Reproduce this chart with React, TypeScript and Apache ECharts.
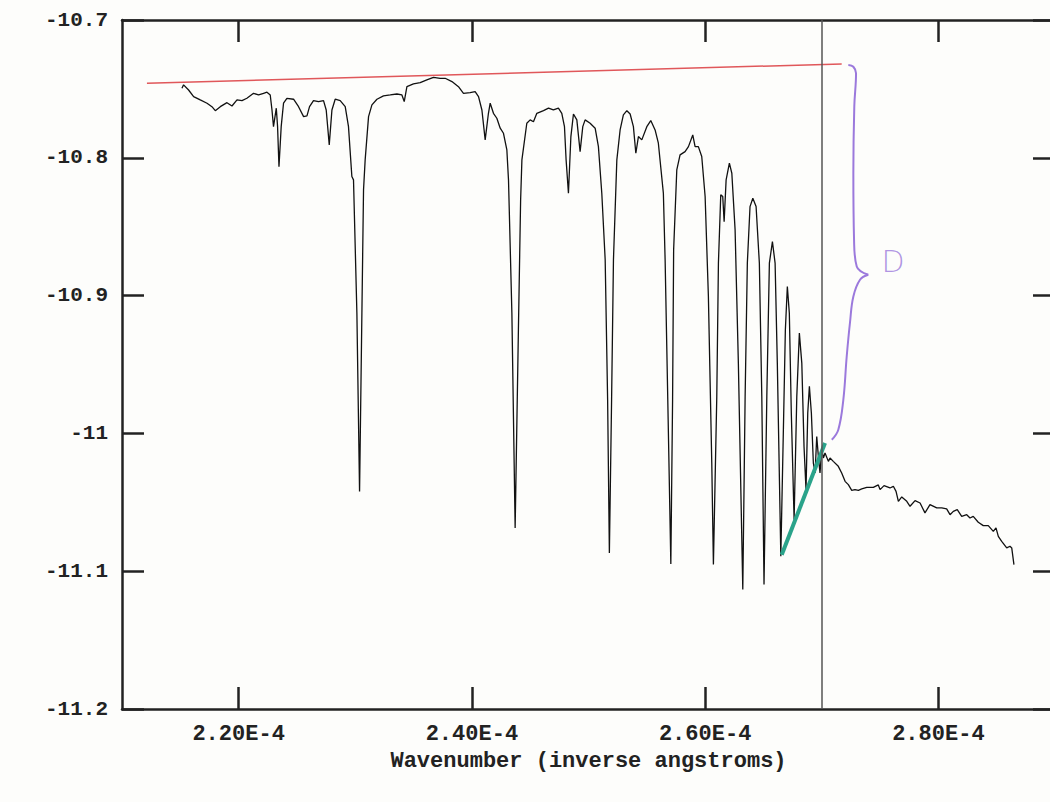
import React, { useEffect, useRef } from "react";
import * as echarts from "echarts";

// Wavenumber in units of 1E-4 inverse angstroms
const wavenumber = [
  2.1514, 2.1528, 2.1571, 2.1614, 2.1671, 2.1729, 2.1771, 2.1800, 2.1843, 2.1900,
  2.1943, 2.1986, 2.2029, 2.2071, 2.2128, 2.2171, 2.2214, 2.2243, 2.2271, 2.2286,
  2.2299, 2.2323, 2.2334, 2.2346, 2.2365, 2.2385, 2.2414, 2.2471, 2.2514, 2.2557,
  2.2586, 2.2608, 2.2642, 2.2685, 2.2728, 2.2751, 2.2777, 2.2800, 2.2828, 2.2871,
  2.2914, 2.2942, 2.2971, 2.2985, 2.3014, 2.3037, 2.3057, 2.3071, 2.3085, 2.3114,
  2.3143, 2.3186, 2.3242, 2.3300, 2.3357, 2.3400, 2.3420, 2.3443, 2.3499, 2.3557,
  2.3614, 2.3671, 2.3728, 2.3771, 2.3829, 2.3885, 2.3928, 2.3985, 2.4028, 2.4057,
  2.4086, 2.4114, 2.4142, 2.4157, 2.4185, 2.4214, 2.4243, 2.4271, 2.4300, 2.4314,
  2.4343, 2.4371, 2.4399, 2.4418, 2.4429, 2.4471, 2.4500, 2.4528, 2.4557, 2.4614,
  2.4657, 2.4699, 2.4742, 2.4771, 2.4794, 2.4808, 2.4828, 2.4849, 2.4871, 2.4900,
  2.4928, 2.4951, 2.4971, 2.5014, 2.5057, 2.5085, 2.5114, 2.5143, 2.5164, 2.5179,
  2.5198, 2.5214, 2.5243, 2.5271, 2.5299, 2.5329, 2.5357, 2.5385, 2.5406, 2.5428,
  2.5457, 2.5500, 2.5534, 2.5571, 2.5599, 2.5642, 2.5657, 2.5683, 2.5706, 2.5721,
  2.5730, 2.5757, 2.5785, 2.5828, 2.5857, 2.5894, 2.5914, 2.5942, 2.5971, 2.6000,
  2.6028, 2.6057, 2.6071, 2.6100, 2.6114, 2.6134, 2.6151, 2.6163, 2.6180, 2.6208,
  2.6229, 2.6257, 2.6285, 2.6323, 2.6343, 2.6362, 2.6385, 2.6409, 2.6437, 2.6465,
  2.6486, 2.6505, 2.6529, 2.6551, 2.6577, 2.6600, 2.6619, 2.6649, 2.6671, 2.6688,
  2.6705, 2.6722, 2.6739, 2.6763, 2.6786, 2.6808, 2.6829, 2.6848, 2.6865, 2.6880,
  2.6894, 2.6911, 2.6928, 2.6943, 2.6957, 2.6971, 2.6985, 2.7000, 2.7014, 2.7028,
  2.7057, 2.7071, 2.7099, 2.7142, 2.7171, 2.7200, 2.7228, 2.7257, 2.7285, 2.7314,
  2.7343, 2.7386, 2.7442, 2.7485, 2.7500, 2.7534, 2.7585, 2.7614, 2.7637, 2.7657,
  2.7686, 2.7729, 2.7757, 2.7800, 2.7843, 2.7885, 2.7928, 2.7986, 2.8029, 2.8071,
  2.8100, 2.8128, 2.8162, 2.8200, 2.8243, 2.8271, 2.8299, 2.8342, 2.8385, 2.8428,
  2.8471, 2.8494, 2.8514, 2.8543, 2.8586, 2.8614, 2.8629, 2.8648,
];

const intensity = [
  -10.7495, -10.7471, -10.7508, -10.7556, -10.7580, -10.7604, -10.7629, -10.7658, -10.7629, -10.7600,
  -10.7624, -10.7580, -10.7585, -10.7568, -10.7532, -10.7544, -10.7532, -10.7524, -10.7544, -10.7653,
  -10.7774, -10.7640, -10.7774, -10.8064, -10.7774, -10.7604, -10.7568, -10.7575, -10.7629, -10.7701,
  -10.7696, -10.7629, -10.7585, -10.7592, -10.7585, -10.7653, -10.7906, -10.7653, -10.7575, -10.7585,
  -10.7629, -10.7774, -10.8136, -10.8160, -10.9125, -11.0421, -10.9125, -10.8233, -10.8015, -10.7701,
  -10.7616, -10.7575, -10.7551, -10.7544, -10.7537, -10.7544, -10.7592, -10.7484, -10.7464, -10.7455,
  -10.7435, -10.7416, -10.7423, -10.7423, -10.7447, -10.7484, -10.7532, -10.7527, -10.7520, -10.7556,
  -10.7653, -10.7870, -10.7677, -10.7604, -10.7677, -10.7713, -10.7785, -10.7822, -10.7943, -10.8160,
  -10.9125, -11.0686, -10.9248, -10.8305, -10.8015, -10.7749, -10.7725, -10.7738, -10.7677, -10.7658,
  -10.7640, -10.7653, -10.7640, -10.7677, -10.7774, -10.8015, -10.8257, -10.7846, -10.7682, -10.7725,
  -10.7955, -10.7774, -10.7725, -10.7749, -10.7785, -10.7919, -10.8257, -10.8740, -10.9756, -11.0867,
  -10.9756, -10.8740, -10.8015, -10.7798, -10.7689, -10.7658, -10.7682, -10.7774, -10.7967, -10.7846,
  -10.7870, -10.7774, -10.7730, -10.7798, -10.7894, -10.8257, -10.8740, -10.9901, -11.0947, -10.9756,
  -10.8668, -10.8088, -10.7979, -10.7955, -10.7919, -10.7834, -10.7919, -10.7919, -10.7991, -10.8281,
  -10.9007, -11.0215, -11.0952, -10.9732, -10.8764, -10.8269, -10.8281, -10.8463, -10.8160, -10.8039,
  -10.8112, -10.8523, -10.9490, -11.1133, -10.9732, -10.8764, -10.8354, -10.8293, -10.8354, -10.8764,
  -10.9732, -11.1097, -10.9732, -10.8764, -10.8608, -10.8764, -10.9490, -11.0892, -10.9973, -10.9248,
  -10.8934, -10.9127, -10.9852, -11.0626, -10.9732, -10.9272, -10.9490, -11.0094, -11.0408, -10.9852,
  -10.9659, -10.9852, -11.0215, -11.0287, -11.0022, -11.0167, -11.0287, -11.0118, -11.0178, -11.0142,
  -11.0203, -11.0178, -11.0203, -11.0239, -11.0287, -11.0348, -11.0372, -11.0413, -11.0408, -11.0413,
  -11.0403, -11.0392, -11.0392, -11.0374, -11.0408, -11.0379, -11.0396, -11.0384, -11.0421, -11.0493,
  -11.0461, -11.0493, -11.0529, -11.0488, -11.0505, -11.0577, -11.0517, -11.0541, -11.0541, -11.0548,
  -11.0590, -11.0566, -11.0553, -11.0602, -11.0590, -11.0614, -11.0602, -11.0645, -11.0669, -11.0669,
  -11.0711, -11.0686, -11.0747, -11.0783, -11.0831, -11.0819, -11.0831, -11.0952,
];

const xTickValues = [2.2, 2.4, 2.6, 2.8];
const xRange = [2.1, 2.9];
const yRange = [-11.2, -10.7];
const yInterval = 0.1;

// Hand-drawn annotations
const continuumX = [2.1214, 2.7171];
const continuumY = [-10.7459, -10.7319];
const edgeX = [2.6657, 2.7028];
const edgeY = [-11.088, -11.007];
const cutoffX = 2.703;
const braceUpperX = [2.7228, 2.7271, 2.7294, 2.7279, 2.7271, 2.7277, 2.7300, 2.7399];
const braceUpperY = [-10.7326, -10.7339, -10.7387, -10.7629, -10.8112, -10.8595, -10.8789, -10.8849];
const braceLowerX = [2.7399, 2.7328, 2.7271, 2.7242, 2.7214, 2.7185, 2.7142, 2.7086];
const braceLowerY = [-10.8849, -10.8885, -10.9007, -10.9197, -10.9442, -10.9756, -10.9973, -11.0046];
const braceLabel = { x: 2.7611, y: -10.8755, text: "D" };

const zip = (xs: number[], ys: number[]) => xs.map((x, i) => [x, ys[i]]);

export default function App() {
  const ref = useRef<HTMLDivElement>(null);
  useEffect(() => {
    const chart = echarts.init(ref.current!, null, { renderer: "svg" });
    const font = "'Liberation Mono', 'Courier New', monospace";
    const axisLine = { show: true, lineStyle: { color: "#222", width: 2.5 } };
    const tick = { show: true, inside: true, length: 22, lineStyle: { color: "#222", width: 2.5 } };
    const purple = "#9b79dc";
    chart.setOption({
      animation: false,
      backgroundColor: "#fdfdfb",
      grid: { left: 122, top: 20, right: 1, bottom: 93 },
      xAxis: [
        {
          type: "value",
          min: xRange[0],
          max: xRange[1],
          position: "bottom",
          axisLine,
          axisTick: { ...tick, customValues: xTickValues },
          axisLabel: {
            customValues: xTickValues,
            formatter: (v: number) => v.toFixed(2) + "E-4",
            fontFamily: font,
            fontSize: 22,
            fontWeight: "bold",
            color: "#222",
            margin: 14,
          },
          splitLine: { show: false },
          name: "Wavenumber (inverse angstroms)",
          nameLocation: "middle",
          nameGap: 41,
          nameTextStyle: { fontFamily: font, fontSize: 22, fontWeight: "bold", color: "#222" },
        },
        {
          type: "value",
          min: xRange[0],
          max: xRange[1],
          position: "top",
          axisLine,
          axisTick: { ...tick, customValues: xTickValues },
          axisLabel: { show: false },
          splitLine: { show: false },
        },
      ],
      yAxis: [
        {
          type: "value",
          min: yRange[0],
          max: yRange[1],
          interval: yInterval,
          position: "left",
          axisLine,
          axisTick: tick,
          axisLabel: {
            formatter: (v: number) => String(Math.round(v * 10) / 10),
            fontFamily: font,
            fontSize: 21,
            fontWeight: "bold",
            color: "#222",
            margin: 14,
          },
          splitLine: { show: false },
        },
        {
          type: "value",
          min: yRange[0],
          max: yRange[1],
          interval: yInterval,
          position: "right",
          axisLine,
          axisTick: tick,
          axisLabel: { show: false },
          splitLine: { show: false },
        },
      ],
      series: [
        {
          type: "line",
          data: zip(wavenumber, intensity),
          symbol: "none",
          lineStyle: { color: "#111", width: 1.3 },
          silent: true,
          markLine: {
            silent: true,
            symbol: "none",
            label: { show: false },
            lineStyle: { color: "#555", width: 1.5, type: "solid" },
            data: [{ xAxis: cutoffX }],
          },
        },
        {
          type: "line",
          data: zip(continuumX, continuumY),
          symbol: "none",
          lineStyle: { color: "#e0575a", width: 1.5 },
          silent: true,
        },
        {
          type: "line",
          data: zip(edgeX, edgeY),
          symbol: "none",
          lineStyle: { color: "#2aa38a", width: 4 },
          silent: true,
        },
        {
          type: "line",
          data: zip(braceUpperX, braceUpperY),
          symbol: "none",
          smooth: 0.4,
          lineStyle: { color: purple, width: 2 },
          silent: true,
        },
        {
          type: "line",
          data: zip(braceLowerX, braceLowerY),
          symbol: "none",
          smooth: 0.4,
          lineStyle: { color: purple, width: 2 },
          silent: true,
        },
        {
          type: "scatter",
          data: [[braceLabel.x, braceLabel.y]],
          symbolSize: 1,
          itemStyle: { color: "transparent" },
          silent: true,
          label: {
            show: true,
            position: "inside",
            formatter: braceLabel.text,
            color: purple,
            fontSize: 30,
            fontFamily: "'DejaVu Sans', sans-serif",
            fontWeight: "lighter",
          },
        },
      ],
    });
    return () => chart.dispose();
  }, []);
  return <div ref={ref} style={{ position: "fixed", left: 0, top: 0, width: 1056, height: 802 }} />;
}
